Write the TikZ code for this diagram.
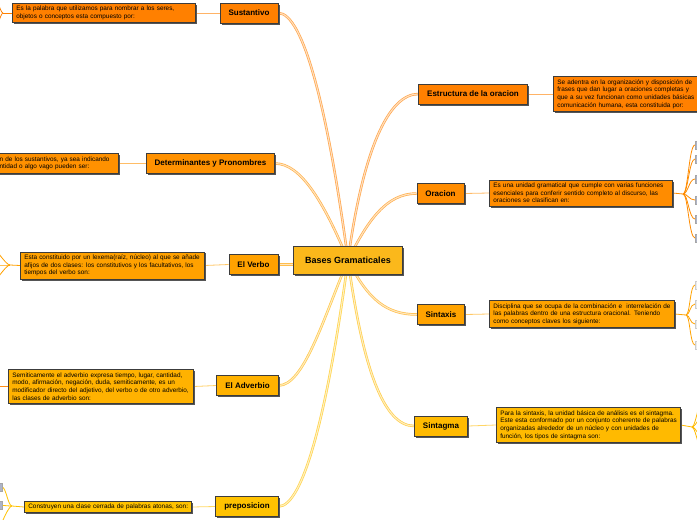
\documentclass[tikz,border=0pt]{standalone}
\usepackage{fontspec}
\setmainfont{Liberation Sans}
\usetikzlibrary{shadows,backgrounds,calc}

\definecolor{cA}{HTML}{FF8000}
\definecolor{cB}{HTML}{FF9100}
\definecolor{cC}{HTML}{FFA100}
\definecolor{cD}{HTML}{FFB200}
\definecolor{cE}{HTML}{FFC200}
\definecolor{cO}{HTML}{FF8C00}
\definecolor{cS}{HTML}{FFA300}
\definecolor{cG}{HTML}{FFBA00}
\definecolor{cCenter}{HTML}{FBB81B}
\definecolor{bordr}{HTML}{3C3C3C}
\definecolor{shad}{HTML}{555555}
\definecolor{leafc}{HTML}{AEB4C8}

\newcommand{\txline}[1]{\mbox{#1}}

\tikzset{
  boxbase/.style={draw=bordr, line width=0.7pt,
    drop shadow={shadow xshift=1.6pt, shadow yshift=-1.6pt, fill=shad, opacity=1}},
  topic/.style={boxbase, fill=#1, font=\bfseries\fontsize{8}{9}\selectfont,
    minimum height=20pt, inner xsep=8.5pt, inner ysep=0pt},
  desc/.style={boxbase, fill=#1, font=\fontsize{6.4}{7.6}\selectfont, align=left,
    inner xsep=4pt, inner ysep=3pt},
  mainline/.style={draw=#1!70!white, double=#1!25!white, double distance=1.1pt, line width=0.7pt},
  subline/.style={draw=#1, line width=0.8pt},
  leaf/.style={draw=gray!70, fill=leafc, line width=0.5pt, minimum width=12pt,
    minimum height=8pt, inner sep=0pt},
}

\begin{document}
\begin{tikzpicture}[x=1pt,y=-1pt]
\useasboundingbox (0,0) rectangle (697,520);

% centre
\node[boxbase, fill=cCenter, font=\bfseries\fontsize{9}{10}\selectfont,
      minimum height=28pt, inner xsep=12pt, inner ysep=0pt] (bg) at (348,260) {Bases Gramaticales};

% left topics
\node[topic=cA] (sust) at (249,13) {Sustantivo};
\node[topic=cB] (det) at (210.5,163.5) {Determinantes y Pronombres};
\node[topic=cC] (verbo) at (253.5,264.5) {El Verbo};
\node[topic=cD] (adv) at (247.5,385.5) {El Adverbio};
\node[topic=cE] (prep) at (247,506.5) {preposicion};

% right topics
\node[topic=cA] (estr) at (473,94) {Estructura de la oracion};
\node[topic=cO] (orac) at (440.5,193.5) {Oracion};
\node[topic=cS] (sintx) at (441,314.5) {Sintaxis};
\node[topic=cG] (sintg) at (441,426) {Sintagma};

% descriptions
\node[desc=cA, anchor=west, text width=175pt, inner ysep=2.5pt] (sdesc) at (12,13)
  {\txline{Es la palabra que utilizamos para nombrar a los seres,}\\\txline{objetos o conceptos esta compuesto por:}};
\node[desc=cB, anchor=east, text width=115pt] (ddesc) at (119,163.5)
  {\txline{n de los sustantivos, ya sea indicando}\\\txline{ntidad o algo vago pueden ser:}};
\node[desc=cC, anchor=west, text width=176pt] (vdesc) at (20,265.5)
  {\txline{Esta constituido por un lexema(raíz, núcleo) al que se añade}\\\txline{afijos de dos clases: los constitutivos y los facultativos, los}\\\txline{tiempos del verbo son:}};
\node[desc=cD, anchor=west, text width=177pt] (adesc) at (8,386.5)
  {\txline{Semiticamente el adverbio expresa tiempo, lugar, cantidad,}\\\txline{modo, afirmación, negación, duda, semiticamente, es un}\\\txline{modificador directo del adjetivo, del verbo o de otro adverbio,}\\\txline{las clases de adverbio son:}};
\node[desc=cE, anchor=west, text width=159pt, inner ysep=2.2pt] (pdesc) at (24,507)
  {\txline{Construyen una clase cerrada de palabras atonas, son:}};

\node[desc=cA, anchor=west, text width=160pt] (edesc) at (553,94)
  {\txline{Se adentra en la organización y disposición de}\\\txline{frases que dan lugar a oraciones completas y}\\\txline{que a su vez funcionan como unidades básicas}\\\txline{comunicación humana, esta constituida por:}};
\node[desc=cO, anchor=west, text width=175pt] (odesc) at (489,193)
  {\txline{Es una unidad gramatical que cumple con varias funciones}\\\txline{esenciales para conferir sentido completo al discurso, las}\\\txline{oraciones se clasifican en:}};
\node[desc=cS, anchor=west, text width=177pt] (xdesc) at (489,314)
  {\txline{Disciplina que se ocupa de la combinación e\ \ interrelación de}\\\txline{las palabras dentro de una estructura oracional. Teniendo}\\\txline{como conceptos claves los siguiente:}};
\node[desc=cG, anchor=west, text width=176pt] (gdesc) at (496,425)
  {\txline{Para la sintaxis, la unidad básica de análisis es el sintagma.}\\\txline{Este esta conformado por un conjunto coherente de palabras}\\\txline{organizadas alrededor de un núcleo y con unidades de}\\\txline{función, los tipos de sintagma son:}};

% sub-children (partly outside the picture)
\coordinate (sfork) at (3,13);
\coordinate (s1) at (-8,-8);
\coordinate (s2) at (-8,36);

\coordinate (vfork) at (10,265);
\coordinate (v1) at (-12,243);
\coordinate (v2) at (-12,265);
\coordinate (v3) at (-12,287);

\coordinate (a1) at (-5,386.5);

\coordinate (pfork) at (12,506);
\node[leaf, anchor=east] (p1) at (2,487) {};
\node[leaf, anchor=east] (p2) at (2,505.5) {};
\coordinate (p3) at (-2,530);

\coordinate (ofork) at (683,194);
\node[leaf, anchor=west] (o1) at (695,145) {};
\node[leaf, anchor=west] (o2) at (695,159) {};
\node[leaf, anchor=west] (o3) at (695,179) {};
\node[leaf, anchor=west] (o4) at (695,200) {};
\node[leaf, anchor=west] (o5) at (695,219) {};
\node[leaf, anchor=west] (o6) at (695,238) {};

\coordinate (xfork) at (686,315);
\node[leaf, anchor=west, draw=gray!40, fill=gray!15] (x1) at (695,285) {};
\node[leaf, anchor=west, draw=gray!40, fill=gray!15] (x2) at (695,304) {};
\node[leaf, anchor=west, draw=gray!40, fill=gray!15] (x3) at (695,324) {};
\node[leaf, anchor=west, draw=gray!40, fill=gray!15] (x4) at (695,345) {};

\coordinate (gfork) at (692,427);
\coordinate (g1) at (706,388);
\coordinate (g2) at (706,412);
\coordinate (g3) at (706,441);
\coordinate (g4) at (706,462);

\begin{scope}[on background layer]
  \fill[white] (0,0) rectangle (697,520);
  % main branches
  \draw[mainline=cA] (bg.center) .. controls +(-20,-150) and +(25,0) .. (sust.east);
  \draw[mainline=cB] (bg.center) .. controls +(-25,-60) and +(25,0) .. (det.east);
  \draw[mainline=cC] (verbo.east) -- (bg.west |- verbo.east);
  \draw[mainline=cD] (bg.center) .. controls +(-25,60) and +(25,0) .. (adv.east);
  \draw[mainline=cE] (bg.center) .. controls +(-20,150) and +(25,0) .. (prep.east);
  \draw[mainline=cA] (bg.center) .. controls +(15,-110) and +(-30,0) .. (estr.west);
  \draw[mainline=cO] (bg.center) .. controls +(20,-40) and +(-30,0) .. (orac.west);
  \draw[mainline=cS] (bg.center) .. controls +(20,40) and +(-30,0) .. (sintx.west);
  \draw[mainline=cG] (bg.center) .. controls +(15,110) and +(-30,0) .. (sintg.west);

  % topic -> description
  \draw[subline=cA!60] (sdesc.east) -- (sust.west);
  \draw[subline=cB!60] (ddesc.east) -- (det.west);
  \draw[subline=cC!60] (vdesc.east) -- (verbo.west);
  \draw[subline=cD!60] (adesc.east) -- (adv.west);
  \draw[subline=cE!60] (pdesc.east) -- (prep.west);
  \draw[subline=cA!60] (estr.east) -- (edesc.west);
  \draw[subline=cO!60] (orac.east) -- (odesc.west);
  \draw[subline=cS!60] (sintx.east) -- (xdesc.west);
  \draw[subline=cG!60] (sintg.east) -- (gdesc.west);

  % description -> sub-children
  \draw[subline=cA] (sdesc.west) -- (sfork);
  \foreach \c in {s1,s2}
    \draw[subline=cA] (sfork) .. controls +(-3,0) and +(4,0) .. (\c);
  \draw[subline=cC] (vdesc.west) -- (vfork);
  \foreach \c in {v1,v2,v3}
    \draw[subline=cC] (vfork) .. controls +(-5,0) and +(5,0) .. (\c);
  \draw[subline=cA!90] (adesc.west) -- (a1);
  \draw[subline=cE] (pdesc.west) -- (pfork);
  \foreach \c in {p1,p2}
    \draw[subline=cE] (pfork) .. controls +(-4,0) and +(4,0) .. (\c.east);
  \draw[subline=cE] (pfork) .. controls +(-4,0) and +(3,-4) .. (p3);

  \draw[subline=cO] (odesc.east) -- (ofork);
  \foreach \c in {o1,o2,o3,o4,o5,o6}
    \draw[subline=cO] (ofork) .. controls +(5,0) and +(-6,0) .. (\c.west);
  \draw[subline=cS] (xdesc.east) -- (xfork);
  \foreach \c in {x1,x2,x3,x4}
    \draw[subline=cS] (xfork) .. controls +(4,0) and +(-5,0) .. (\c.west);
  \draw[subline=cG] (gdesc.east) -- (gfork);
  \foreach \c in {g1,g2,g3,g4}
    \draw[subline=cG] (gfork) .. controls +(4,0) and +(-5,0) .. (\c);
\end{scope}
\end{tikzpicture}
\end{document}
